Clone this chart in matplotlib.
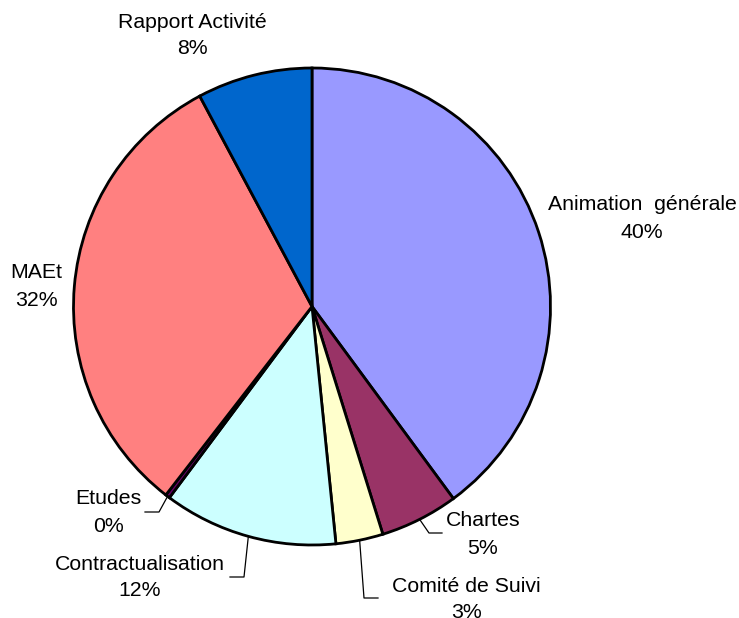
import matplotlib
matplotlib.use("Agg")
import matplotlib.pyplot as plt
import numpy as np

# ---- data ----
categories = ["Animation  générale", "Chartes", "Comité de Suivi", "Contractualisation",
              "Etudes", "MAEt", "Rapport Activité"]
values = [39.9, 5.3, 3.2, 11.8, 0.3, 31.7, 7.8]
colors = ["#9999FF", "#993366", "#FFFFCC", "#CCFFFF", "#660066", "#FF8080", "#0066CC"]

# ---- layout (pixels in a 739x618 canvas) ----
W, H = 739, 618
CX, CY, R = 312, 306.5, 238.5
label_pos = {  # centre x, y of first line, y of second line
    "Animation  générale": (642, 205, 232),
    "Chartes": (483, 521, 548),
    "Comité de Suivi": (466, 586, 612),
    "Contractualisation": (140, 565, 591),
    "Etudes": (108, 499, 526),
    "MAEt": (36, 272, 300),
    "Rapport Activité": (192, 22, 48),
}
leaders = {  # elbow point, end point (pixels)
    "Chartes": ((429, 533), (442, 533)),
    "Comité de Suivi": ((364, 598), (378, 598)),
    "Contractualisation": ((244, 577), (230, 577)),
    "Etudes": ((159, 512), (145, 512)),
}
FS = 15.3

def to_data(px, py):
    return (px - CX) / R, (CY - py) / R

fig = plt.figure(figsize=(W / 100, H / 100), dpi=100)
ax = fig.add_axes([(CX - R) / W, (H - CY - R) / H, 2 * R / W, 2 * R / H])
ax.axis("off")

wedges, _ = ax.pie(values, colors=colors, startangle=90, counterclock=False, radius=1,
                   wedgeprops=dict(edgecolor="black", linewidth=2))
ax.set_xlim(-1, 1)
ax.set_ylim(-1, 1)
ax.set_aspect("equal")

total = sum(values)
for w, cat, v in zip(wedges, categories, values):
    lx, ly1, ly2 = label_pos[cat]
    x1, y1 = to_data(lx, ly1)
    x2, y2 = to_data(lx, ly2)
    ax.text(x1, y1, cat, ha="center", va="center", fontsize=FS,
            family="Liberation Sans", clip_on=False)
    ax.text(x2, y2, f"{round(v / total * 100):.0f}%", ha="center", va="center",
            fontsize=FS, family="Liberation Sans", clip_on=False)
    if cat in leaders:
        mid = np.deg2rad((w.theta1 + w.theta2) / 2)
        sx, sy = np.cos(mid), np.sin(mid)
        (ex, ey), (fx, fy) = leaders[cat]
        ex, ey = to_data(ex, ey)
        fx, fy = to_data(fx, fy)
        ax.plot([sx, ex, fx], [sy, ey, fy], color="black", linewidth=0.9,
                clip_on=False, zorder=5)

fig.savefig("out.png", dpi=100, facecolor="white")
